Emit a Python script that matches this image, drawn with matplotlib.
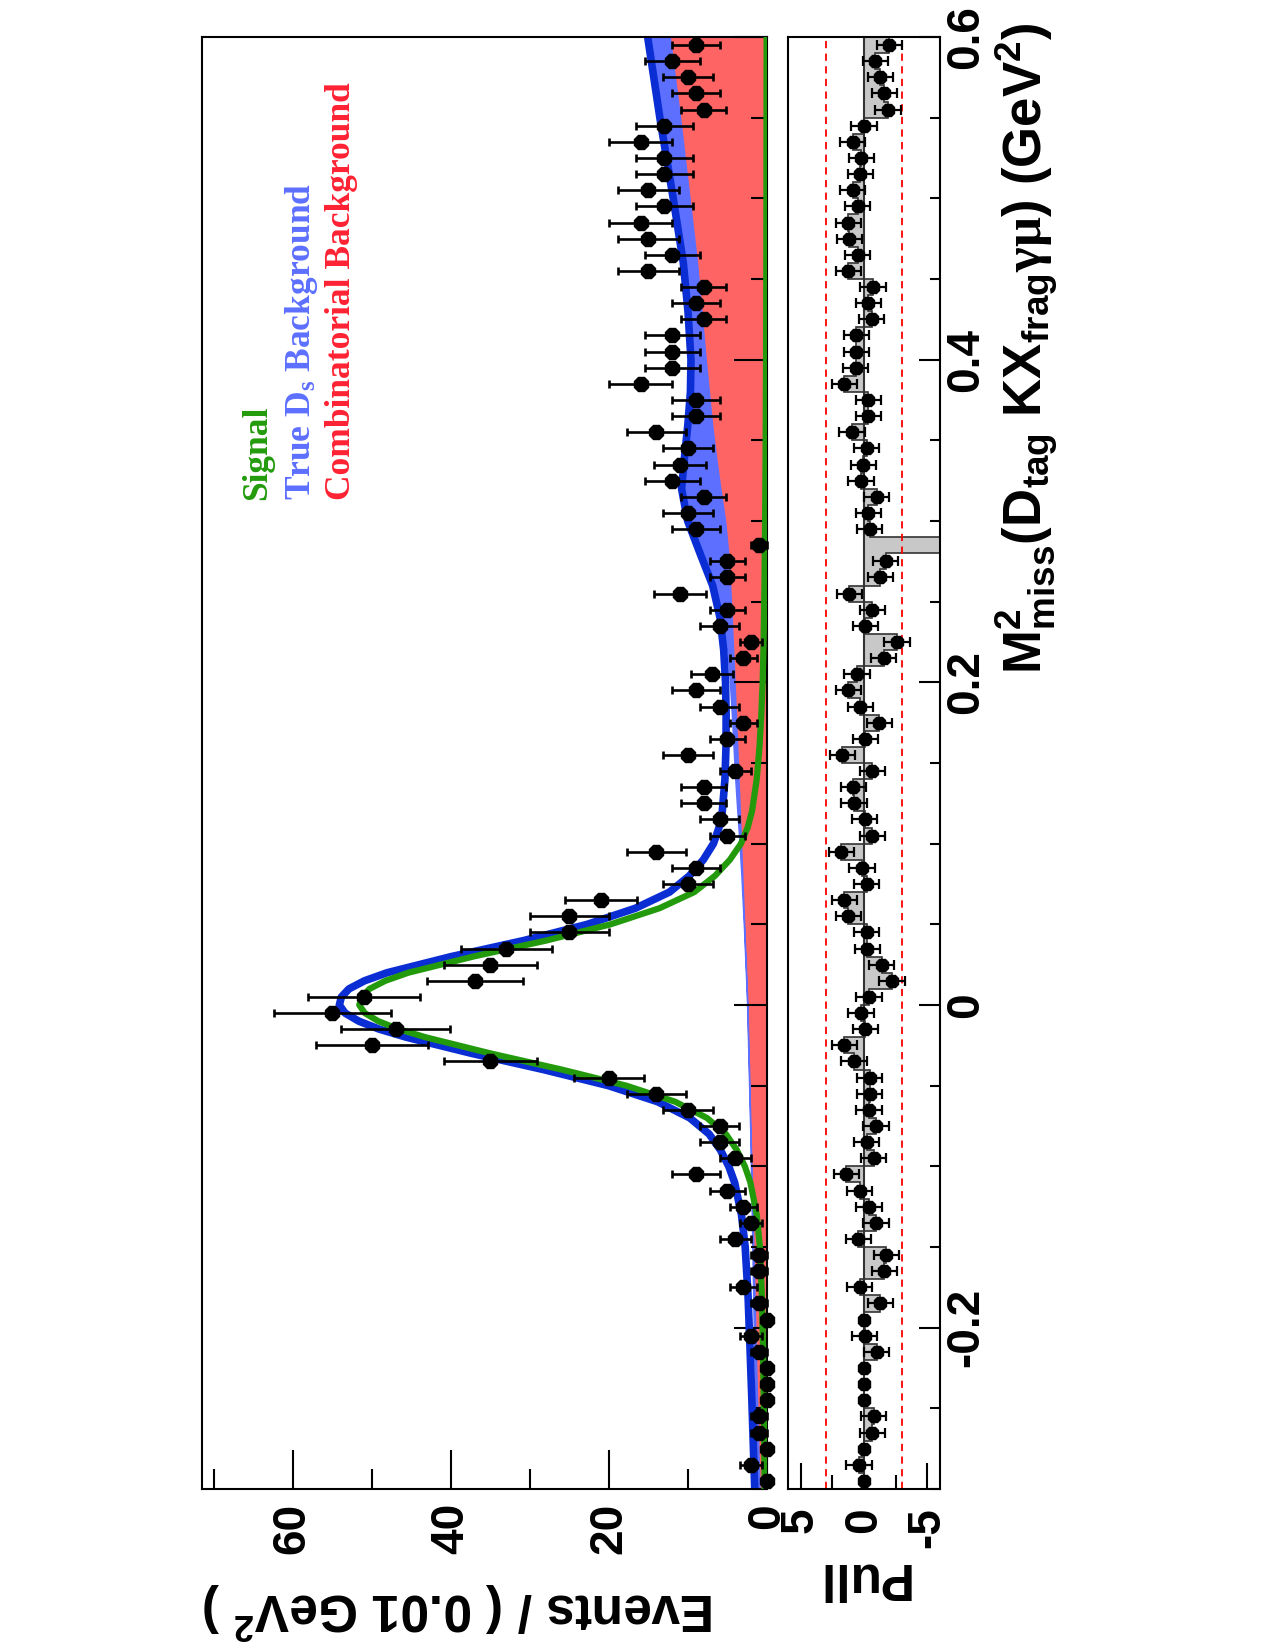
import matplotlib
matplotlib.use("Agg")
import matplotlib.pyplot as plt
import numpy as np
from matplotlib.ticker import MultipleLocator, FuncFormatter

plt.rcParams["font.family"] = ["Liberation Sans", "DejaVu Sans"]
plt.rcParams["font.weight"] = "bold"
plt.rcParams["mathtext.fontset"] = "custom"
plt.rcParams["mathtext.rm"] = "Liberation Serif"
plt.rcParams["mathtext.default"] = "regular"
plt.rcParams["axes.unicode_minus"] = False

# --- data: 90 bins of 0.01 GeV^2 from -0.3 to 0.6 ---
bin_lo, bin_hi, bin_w = -0.30, 0.60, 0.01
counts = [0, 2, 0, 1, 1, 0, 0, 0, 1, 2,
          0, 1, 3, 1, 1, 4, 2, 3, 5, 9,
          4, 6, 6, 10, 14, 20, 35, 50, 47, 55,
          51, 37, 35, 33, 25, 25, 21, 10, 9, 14,
          5, 6, 8, 8, 4, 10, 5, 3, 6, 9,
          7, 3, 2, 6, 5, 11, 5, 5, 1, 9,
          10, 8, 12, 11, 10, 14, 9, 9, 16, 12,
          12, 12, 8, 9, 8, 15, 12, 15, 16, 13,
          15, 13, 13, 16, 13, 8, 9, 10, 12, 9]
pulls = [0, 0.4, 0, -0.65, -0.75, 0, 0, 0, -1.0, -0.05,
         0, -1.3, 0.35, -1.6, -1.75, 0.45, -0.95, -0.4, 0.35, 1.4,
         -0.75, -0.2, -0.95, -0.4, -0.45, -0.45, 0.8, 1.55, -0.1, 0.25,
         -0.4, -2.2, -1.4, -0.25, -0.2, 1.25, 1.55, -0.2, 0.15, 1.8,
         -0.65, -0.05, 0.8, 0.85, -0.65, 1.7, -0.1, -1.2, 0.3, 1.25,
         0.55, -1.55, -2.6, -0.1, -0.65, 1.15, -1.3, -1.7, -8.0, -0.45,
         -0.35, -1.0, 0.25, 0.05, -0.2, 0.95, -0.35, -0.35, 1.55, 0.65,
         0.6, 0.6, -0.6, -0.35, -0.7, 1.25, 0.5, 1.15, 1.25, 0.5,
         0.9, 0.3, 0.2, 0.9, 0, -1.9, -1.6, -1.3, -0.9, -2.0]

# fit components
m_curve = [-0.30, -0.27, -0.24, -0.21, -0.18, -0.15, -0.13, -0.11, -0.10, -0.09,
           -0.08, -0.07, -0.06, -0.05, -0.04, -0.03, -0.02, -0.015, -0.01, -0.005,
           0.00, 0.005, 0.01, 0.015, 0.02, 0.03, 0.04, 0.05, 0.06, 0.07,
           0.08, 0.09, 0.10, 0.11, 0.12, 0.14, 0.16, 0.18, 0.20, 0.22,
           0.24, 0.26, 0.28, 0.30, 0.32, 0.34, 0.36, 0.38, 0.40, 0.43,
           0.46, 0.50, 0.55, 0.60]
signal = [0.30, 0.35, 0.42, 0.52, 0.65, 0.90, 1.30, 2.10, 2.80, 3.80,
          5.20, 7.60, 11.6, 17.8, 26.0, 35.0, 43.2, 46.6, 49.2, 50.9,
          51.6, 51.3, 50.3, 48.3, 45.4, 37.2, 27.9, 19.8, 13.6, 9.2,
          6.6, 4.7, 3.3, 2.45, 1.9, 1.3, 0.95, 0.72, 0.55, 0.45,
          0.38, 0.32, 0.28, 0.24, 0.21, 0.18, 0.16, 0.14, 0.12, 0.10,
          0.09, 0.07, 0.06, 0.05]
comb = [0.95, 1.12, 1.28, 1.43, 1.57, 1.72, 1.82, 1.92, 1.97, 2.02,
        2.07, 2.12, 2.17, 2.22, 2.27, 2.32, 2.37, 2.40, 2.42, 2.45,
        2.47, 2.51, 2.55, 2.59, 2.63, 2.72, 2.80, 2.88, 2.96, 3.04,
        3.12, 3.20, 3.28, 3.36, 3.44, 3.60, 3.76, 3.93, 4.10, 4.28,
        4.46, 4.66, 4.90, 5.30, 5.90, 6.45, 6.95, 7.35, 7.75, 8.30,
        8.85, 9.80, 11.0, 12.3]
true_ds = [0.30, 0.28, 0.25, 0.22, 0.18, 0.14, 0.11, 0.08, 0.07, 0.06,
           0.05, 0.05, 0.05, 0.05, 0.05, 0.05, 0.05, 0.05, 0.05, 0.05,
           0.05, 0.05, 0.05, 0.05, 0.05, 0.05, 0.05, 0.06, 0.08, 0.10,
           0.12, 0.16, 0.20, 0.26, 0.32, 0.42, 0.48, 0.52, 0.60, 0.75,
           1.10, 1.90, 3.30, 4.50, 4.70, 3.80, 2.90, 2.20, 1.75, 1.60,
           1.65, 2.00, 2.50, 2.75]

counts = np.array(counts, dtype=float)
centres = np.round(np.arange(len(counts)) * bin_w + bin_lo + bin_w / 2, 4)
edges = np.round(np.arange(len(counts) + 1) * bin_w + bin_lo, 4)
comb = np.array(comb)
ds_top = comb + np.array(true_ds)
total = ds_top + np.array(signal)

RED = "#ff6464"
LBLUE = "#5d6fff"
BLUE = "#0b2ed4"
GREEN = "#239a0c"

W, H = 1275, 1650
fig = plt.figure(figsize=(W / 100, H / 100), dpi=100)


def box(x0, x1, y0, y1):
    return [x0 / W, 1 - y1 / H, (x1 - x0) / W, (y1 - y0) / H]


fmt = FuncFormatter(lambda v, _: f"{round(v, 6) + 0:g}")

# --- main panel (rotated: events run right->left, M^2 bottom->top) ---
ax = fig.add_axes(box(202, 767, 37, 1489))
ax.fill_betweenx(m_curve, 0, comb, color=RED, lw=0, zorder=1)
ax.fill_betweenx(m_curve, comb, ds_top, color=LBLUE, edgecolor=LBLUE, lw=1, zorder=1)
ax.plot(total, m_curve, color=BLUE, lw=5.5, zorder=2, solid_capstyle="butt")
ax.plot(signal, m_curve, color=GREEN, lw=4.5, zorder=3, solid_capstyle="butt")
ax.errorbar(counts, centres, xerr=np.sqrt(counts), fmt="8", color="black",
            ms=11.5, elinewidth=1.9, capsize=2.6, capthick=1.9, zorder=5, clip_on=False)

ax.set_xlim(71.5, 0)
ax.set_ylim(bin_lo, bin_hi)
ax.xaxis.set_major_locator(MultipleLocator(20))
ax.xaxis.set_minor_locator(MultipleLocator(10))
ax.yaxis.set_major_locator(MultipleLocator(0.2))
ax.yaxis.set_minor_locator(MultipleLocator(0.05))
ax.xaxis.set_major_formatter(fmt)
ax.tick_params(axis="x", which="both", direction="in", bottom=True, top=False, width=1.5)
ax.tick_params(axis="x", which="major", length=28, labelsize=33, pad=10, labelrotation=90)
ax.tick_params(axis="x", which="minor", length=14.5)
ax.tick_params(axis="y", which="both", direction="in", left=False, right=True,
               labelleft=False, labelright=False, width=1.5)
ax.tick_params(axis="y", which="major", length=24)
ax.tick_params(axis="y", which="minor", length=11.5)
for s in ax.spines.values():
    s.set_linewidth(1.5)

# --- pull panel ---
axp = fig.add_axes(box(788, 940, 37, 1489))
axp.stairs(pulls, edges, baseline=0, orientation="horizontal", fill=True,
           color="#c8c8c8", zorder=1)
axp.stairs(pulls, edges, baseline=0, orientation="horizontal", color="#333333",
           lw=1.2, zorder=2)
axp.axvline(0, color="#333333", lw=1.5, zorder=2)
for v in (3, -3):
    axp.axvline(v, color="red", lw=1.3, ls=(0, (4, 3)), zorder=2)
pull_err = np.where(counts > 0, 1.0, 0.0)
axp.errorbar(pulls, centres, xerr=pull_err, fmt="8", color="black", ms=10,
             elinewidth=1.6, capsize=3.5, capthick=1.6, zorder=5)
axp.set_xlim(6, -6)
axp.set_ylim(bin_lo, bin_hi)
axp.xaxis.set_major_locator(MultipleLocator(5))
axp.xaxis.set_minor_locator(MultipleLocator(2.5))
axp.yaxis.set_major_locator(MultipleLocator(0.2))
axp.yaxis.set_minor_locator(MultipleLocator(0.05))
axp.xaxis.set_major_formatter(fmt)
axp.yaxis.set_major_formatter(fmt)
axp.tick_params(axis="x", which="both", direction="in", bottom=True, top=False, width=1.5)
axp.tick_params(axis="x", which="major", length=19, labelsize=33, pad=13, labelrotation=90)
axp.tick_params(axis="x", which="minor", length=10)
axp.tick_params(axis="y", which="both", direction="in", left=False, right=True,
                labelleft=False, labelright=True, width=1.5)
axp.tick_params(axis="y", which="major", length=15, labelsize=33, pad=3, labelrotation=90)
axp.tick_params(axis="y", which="minor", length=7)
for lab in axp.get_yticklabels():
    lab.set_va("center")
for s in axp.spines.values():
    s.set_linewidth(1.5)

# --- axis titles ---
fig.text(202 / W, 1 - 1610 / H, "Events / ( 0.01 GeV$^{2}$ )", rotation=180,
         ha="left", va="center", fontsize=37, fontweight="bold")
fig.text(862 / W, 1 - 1577 / H, "Pull", rotation=180, ha="center", va="center",
         fontsize=37, fontweight="bold")
fig.text(1043 / W, 1 - 22 / H,
         r"M$^{2}_{miss}$(D$_{tag}$ KX$_{frag}$$\mathrm{\gamma\mu}$) (GeV$^{2}$)",
         rotation=90, rotation_mode="anchor", ha="right", va="baseline",
         fontsize=38, fontweight="bold")

# --- legend ---
legend = [("Signal", GREEN, 266), ("True D$_{s}$ Background", LBLUE, 310),
          ("Combinatorial Background", "#ff2233", 350)]
for txt, col, xb in legend:
    fig.text(xb / W, 1 - 500 / H, txt, rotation=90, rotation_mode="anchor",
             ha="left", va="baseline", fontsize=25.5, fontweight="bold",
             color=col, family=["Liberation Serif", "DejaVu Serif"])

fig.savefig("out.png", dpi=100)
